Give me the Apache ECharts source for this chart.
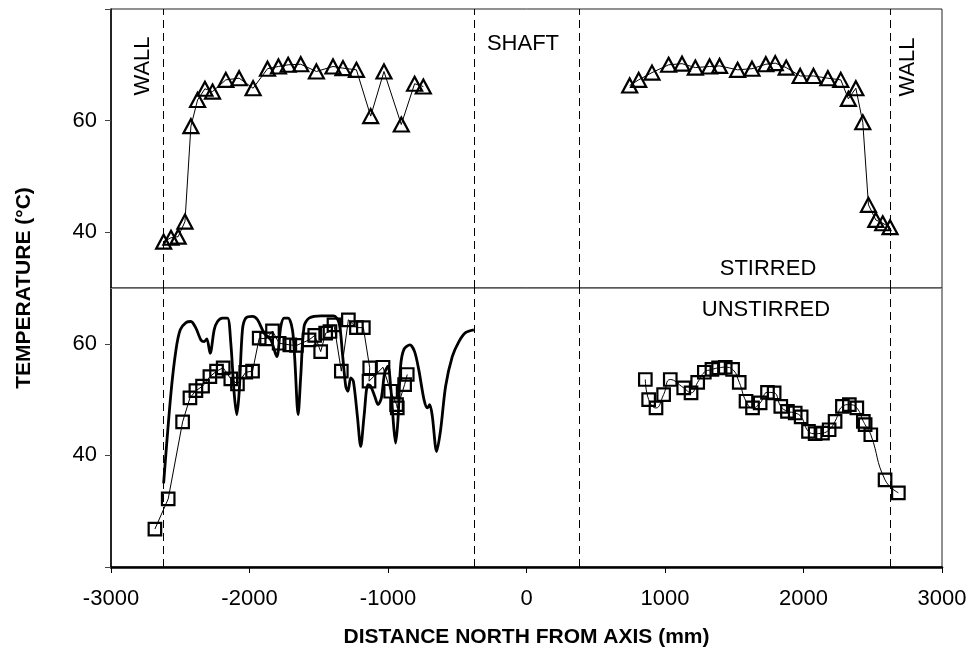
<!DOCTYPE html>
<html>
<head>
<meta charset="utf-8">
<script src="https://cdn.jsdelivr.net/npm/echarts@6/dist/echarts.min.js"></script>
<style>
  html, body { margin: 0; padding: 0; background: #fff; }
  #chart { width: 971px; height: 660px; }
</style>
</head>
<body>
<div id="chart"></div>
<script>
// stirred run (triangles), distance in mm, temperature in °C
const stirredLeftX = [-2620, -2567, -2515, -2466, -2423, -2375, -2322, -2267, -2171, -2075, -1974, -1870, -1791, -1721, -1630, -1517, -1397, -1325, -1228, -1125, -1029, -904, -808, -745];
const stirredLeftT = [38.3, 39.0, 39.2, 41.9, 59.0, 63.7, 65.7, 65.2, 67.3, 67.6, 65.8, 69.3, 69.7, 70.0, 70.1, 68.8, 69.7, 69.4, 69.1, 60.8, 68.8, 59.3, 66.6, 66.1];
const stirredRightX = [745, 810, 906, 1026, 1123, 1219, 1322, 1394, 1524, 1628, 1728, 1796, 1875, 1976, 2072, 2176, 2269, 2324, 2378, 2428, 2469, 2522, 2572, 2625];
const stirredRightT = [66.3, 67.3, 68.6, 70.0, 70.2, 69.5, 69.7, 69.8, 69.1, 69.3, 70.1, 70.3, 69.5, 68.0, 68.0, 67.6, 67.3, 63.9, 65.8, 59.7, 44.9, 42.2, 41.6, 40.9];

// unstirred run (squares)
const unstirredLeftX = [-2683, -2587, -2483, -2430, -2387, -2339, -2286, -2238, -2190, -2135, -2087, -2027, -1978, -1930, -1877, -1834, -1786, -1709, -1661, -1570, -1529, -1486, -1450, -1419, -1390, -1337, -1286, -1228, -1178, -1132, -1137, -1036, -981, -938, -933, -880, -861];
const unstirredLeftT = [26.8, 32.2, 46.0, 50.3, 51.6, 52.4, 54.1, 55.1, 55.7, 53.7, 52.8, 54.9, 55.1, 61.0, 60.9, 62.3, 60.1, 59.8, 59.7, 60.7, 61.5, 58.6, 61.9, 62.2, 63.4, 55.1, 64.3, 62.9, 62.9, 55.7, 53.3, 55.8, 51.5, 49.1, 48.5, 52.7, 54.5];
const unstirredRightX = [858, 882, 935, 990, 1038, 1135, 1188, 1236, 1284, 1339, 1387, 1435, 1488, 1536, 1585, 1632, 1687, 1740, 1788, 1836, 1884, 1940, 1983, 2036, 2084, 2137, 2185, 2228, 2281, 2331, 2385, 2432, 2445, 2486, 2589, 2685];
const unstirredRightT = [53.6, 50.0, 48.5, 50.9, 53.6, 52.1, 51.2, 53.1, 54.9, 55.4, 55.7, 55.8, 55.4, 53.1, 49.7, 48.5, 49.4, 51.3, 51.2, 48.8, 47.9, 47.6, 46.9, 44.3, 43.9, 44.0, 44.6, 46.1, 48.8, 49.1, 48.5, 46.1, 45.5, 43.7, 35.6, 33.3];

// continuous profile (thick line)
const profileX = [-2620, -2567, -2531, -2500, -2459, -2423, -2387, -2351, -2327, -2308, -2284, -2255, -2231, -2195, -2159, -2135, -2111, -2092, -2075, -2051, -2027, -1978, -1942, -1894, -1846, -1803, -1774, -1750, -1721, -1690, -1673, -1649, -1630, -1606, -1570, -1480, -1392, -1353, -1329, -1305, -1289, -1269, -1250, -1221, -1197, -1173, -1145, -1125, -1096, -1072, -1048, -1024, -1000, -981, -957, -945, -928, -909, -885, -842, -808, -776, -740, -716, -699, -680, -649, -620, -584, -536, -488, -440, -380];
const profileT = [35.0, 51.2, 58.9, 62.5, 63.8, 64.0, 62.8, 60.7, 60.4, 60.9, 58.3, 62.5, 64.0, 64.6, 64.6, 60.1, 51.2, 47.3, 51.2, 62.5, 64.6, 64.9, 64.3, 61.9, 60.7, 57.7, 63.1, 64.6, 64.6, 62.5, 57.2, 47.3, 54.2, 63.1, 64.6, 65.0, 65.0, 63.7, 58.3, 52.4, 51.5, 53.9, 53.3, 47.0, 41.6, 47.0, 52.7, 52.4, 50.6, 49.1, 50.3, 54.8, 56.0, 52.4, 44.6, 42.2, 46.4, 56.0, 59.0, 59.8, 58.6, 55.1, 50.0, 48.5, 49.1, 47.0, 40.7, 44.6, 52.4, 57.7, 60.4, 62.0, 62.5];

// wall and shaft positions (dashed lines)
const boundaryX = [-2625, -380, 380, 2625];
const xTicks = [-3000, 3000, 1000];

const font = 'Liberation Sans, Arial, sans-serif';
const zip = (xs, ys) => xs.map((x, i) => [x, ys[i]]);

const dashes = {
    silent: true,
    symbol: ['none', 'none'],
    label: { show: false },
    lineStyle: { color: '#000', width: 1, type: [8, 5] },
    data: boundaryX.map(x => ({ xAxis: x }))
};

const marker = (symbol, size, grid, data, smooth) => ({
    type: 'line',
    xAxisIndex: grid,
    yAxisIndex: grid,
    data,
    smooth,
    symbol,
    symbolSize: size,
    showAllSymbol: true,
    lineStyle: { color: '#000', width: 1 },
    itemStyle: { color: 'rgba(0,0,0,0)', borderColor: '#000', borderWidth: 2.2 },
    z: 3
});

const chart = echarts.init(document.getElementById('chart'));

const yAxisBase = {
    type: 'value',
    splitLine: { show: false },
    axisLine: { show: true, onZero: false, lineStyle: { color: '#000', width: 1.5 } },
    axisTick: { show: true, inside: false, length: 6, lineStyle: { color: '#444' } },
    axisLabel: { color: '#000', fontSize: 22, fontFamily: font, margin: 14, customValues: [40, 60] }
};

chart.setOption({
    animation: false,
    grid: [
        { left: 111, right: 29, top: 9, height: 279, show: true, borderColor: '#222', borderWidth: 1 },
        { left: 111, right: 29, top: 288, height: 279, show: true, borderColor: '#222', borderWidth: 1 }
    ],
    xAxis: [
        {
            type: 'value', gridIndex: 0, min: xTicks[0], max: xTicks[1], interval: xTicks[2],
            splitLine: { show: false },
            axisLine: { show: true, onZero: false, lineStyle: { color: '#888', width: 1.2 } },
            axisTick: { show: false },
            axisLabel: { show: false }
        },
        {
            type: 'value', gridIndex: 1, min: xTicks[0], max: xTicks[1], interval: xTicks[2],
            splitLine: { show: false },
            axisLine: { show: true, onZero: false, lineStyle: { color: '#000', width: 2.5 } },
            axisTick: { show: true, inside: false, length: 6, lineStyle: { color: '#000' } },
            axisLabel: { color: '#000', fontSize: 22, fontFamily: font, margin: 21, formatter: v => String(v) },
            name: 'DISTANCE NORTH FROM AXIS (mm)',
            nameLocation: 'middle',
            nameGap: 60,
            nameTextStyle: { color: '#000', fontSize: 21, fontWeight: 'bold', fontFamily: font }
        }
    ],
    yAxis: [
        Object.assign({}, yAxisBase, {
            gridIndex: 0, min: 30, max: 80,
            axisTick: Object.assign({}, yAxisBase.axisTick, { customValues: [40, 60, 80] })
        }),
        Object.assign({}, yAxisBase, {
            gridIndex: 1, min: 20, max: 70,
            axisTick: Object.assign({}, yAxisBase.axisTick, { customValues: [20, 40, 60] })
        })
    ],
    series: [
        Object.assign(marker('triangle', [15, 14], 0, zip(stirredLeftX, stirredLeftT), false), { markLine: dashes }),
        marker('triangle', [15, 14], 0, zip(stirredRightX, stirredRightT), false),
        {
            type: 'line',
            xAxisIndex: 1,
            yAxisIndex: 1,
            data: zip(profileX, profileT),
            smooth: 0.3,
            showSymbol: false,
            lineStyle: { color: '#000', width: 2.8 },
            markLine: dashes,
            z: 2
        },
        marker('rect', 12.5, 1, zip(unstirredLeftX, unstirredLeftT), false),
        marker('rect', 12.5, 1, zip(unstirredRightX, unstirredRightT), 0.5)
    ],
    graphic: [
        { type: 'text', x: 24, y: 288, rotation: Math.PI / 2,
          style: { text: 'TEMPERATURE (°C)', font: 'bold 21px ' + font, fill: '#000', align: 'center', verticalAlign: 'middle' } },
        { type: 'text', x: 143, y: 66, rotation: Math.PI / 2,
          style: { text: 'WALL', font: '22px ' + font, fill: '#000', align: 'center', verticalAlign: 'middle' } },
        { type: 'text', x: 908, y: 67, rotation: Math.PI / 2,
          style: { text: 'WALL', font: '22px ' + font, fill: '#000', align: 'center', verticalAlign: 'middle' } },
        { type: 'text', x: 523, y: 44,
          style: { text: 'SHAFT', font: '22px ' + font, fill: '#000', align: 'center', verticalAlign: 'middle' } },
        { type: 'text', x: 768, y: 269,
          style: { text: 'STIRRED', font: '22px ' + font, fill: '#000', align: 'center', verticalAlign: 'middle' } },
        { type: 'text', x: 766, y: 310,
          style: { text: 'UNSTIRRED', font: '22px ' + font, fill: '#000', align: 'center', verticalAlign: 'middle' } }
    ]
});

window.addEventListener('resize', () => chart.resize());
</script>
</body>
</html>
